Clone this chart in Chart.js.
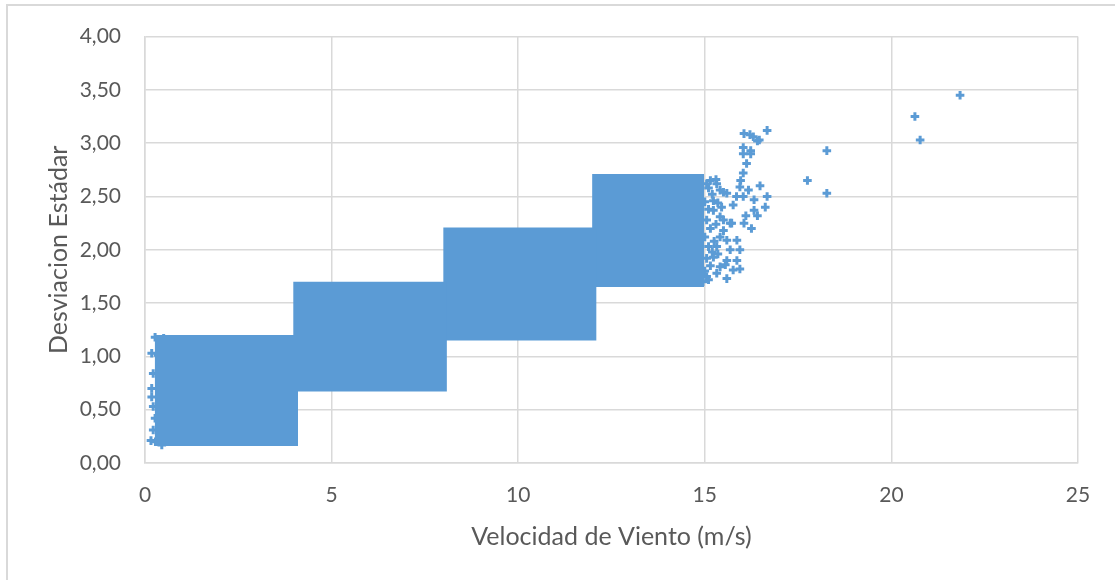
<!DOCTYPE html>
<html>
<head>
<meta charset="utf-8">
<script src="https://cdn.jsdelivr.net/npm/chart.js@4.4.1/dist/chart.umd.min.js"></script>
<style>
  html, body { margin: 0; padding: 0; background: #fff; }
  #wrap { position: relative; width: 1115px; height: 580px; overflow: hidden; }
  #frame { position: absolute; left: 6px; top: 4px; width: 1200px; height: 700px; border: 2px solid #d9d9d9; box-sizing: border-box; }
  canvas { position: absolute; left: 0; top: 0; }
</style>
</head>
<body>
<div id="wrap">
  <div id="frame"></div>
  <canvas id="chart" width="1115" height="580"></canvas>
</div>
<script>
const blockXMin = [0.26, 3.97, 7.99, 11.98];
const blockXMax = [4.10, 8.09, 12.10, 14.98];
const blockYMin = [0.16, 0.67, 1.15, 1.65];
const blockYMax = [1.20, 1.70, 2.21, 2.71];

// sparse points: left edge of first block
const edgeX = [0.16, 0.28, 0.27, 0.18, 0.35, 0.22, 0.18, 0.18, 0.22, 0.27, 0.22, 0.45, 0.50];
const edgeY = [0.21, 0.20, 1.18, 1.03, 1.01, 0.84, 0.70, 0.62, 0.53, 0.42, 0.31, 0.17, 1.17];

// sparse points: right side of the fourth block
const tailX = [15.15, 15.10, 15.20, 15.32, 15.59, 15.41, 15.23, 15.23, 15.41, 15.50, 15.68,
  15.59, 15.86, 15.68, 15.94, 15.32, 15.86, 15.59, 15.41, 15.76, 15.94, 15.59, 15.32,
  15.23, 15.05, 15.41,
  15.05, 15.00, 15.10, 15.05, 15.15, 15.00, 15.10, 15.20, 15.05, 15.15, 15.00, 14.95, 15.10,
  15.30, 15.35, 15.45, 15.30, 15.50, 15.25, 15.35, 15.55,
  16.67, 16.05, 16.21, 16.30, 16.41, 16.46, 16.03, 16.23, 16.23, 16.03, 16.12, 16.03,
  15.96, 15.94, 16.48, 16.17, 16.67, 16.32, 16.03, 15.76, 16.62, 16.32, 16.41, 16.10,
  16.05, 16.25, 15.72, 15.50, 15.85];
const tailY = [2.65, 2.58, 2.52, 2.62, 2.53, 2.56, 2.46, 2.37, 2.31, 2.18, 2.25,
  2.09, 2.09, 2.00, 2.00, 2.03, 1.90, 1.90, 1.84, 1.81, 1.82, 1.73, 1.78,
  1.93, 1.75, 2.12,
  2.62, 2.45, 2.38, 2.28, 2.20, 2.12, 2.03, 1.98, 1.92, 1.85, 1.80, 1.70, 1.72,
  2.66, 2.44, 2.40, 2.24, 2.28, 2.08, 1.96, 1.86,
  3.12, 3.09, 3.08, 3.06, 3.02, 3.03, 2.96, 2.93, 2.90, 2.90, 2.81, 2.72,
  2.65, 2.59, 2.60, 2.56, 2.50, 2.47, 2.50, 2.42, 2.40, 2.37, 2.32, 2.32,
  2.25, 2.20, 2.25, 2.54, 2.50];

// isolated high-wind points
const outX = [17.75, 18.27, 18.27, 20.63, 20.77, 21.84];
const outY = [2.65, 2.93, 2.53, 3.25, 3.03, 3.45];

const blue = '#5b9bd5';
const grey = '#d9d9d9';
const textColor = '#595959';
const fontFamily = 'Lato, "Open Sans", sans-serif';

function toPoints(xs, ys) {
  return xs.map((x, i) => ({ x: x, y: ys[i] }));
}

const datasets = [];
blockXMin.forEach((x0, i) => {
  datasets.push({
    type: 'line',
    data: [{ x: x0, y: blockYMax[i] }, { x: blockXMax[i], y: blockYMax[i] }],
    borderWidth: 0,
    borderColor: blue,
    backgroundColor: blue,
    pointRadius: 0,
    fill: { value: blockYMin[i] }
  });
});
[toPoints(edgeX, edgeY), toPoints(tailX, tailY), toPoints(outX, outY)].forEach(pts => {
  datasets.push({
    type: 'scatter',
    data: pts,
    pointStyle: 'cross',
    pointRadius: 4.3,
    borderWidth: 3,
    borderColor: blue,
    backgroundColor: blue
  });
});

new Chart(document.getElementById('chart'), {
  type: 'scatter',
  data: { datasets: datasets },
  options: {
    responsive: false,
    animation: false,
    events: [],
    layout: { padding: { top: 36, right: 37, left: 0, bottom: 0 } },
    plugins: { legend: { display: false }, tooltip: { enabled: false } },
    scales: {
      x: {
        type: 'linear',
        min: 0,
        max: 25,
        ticks: { stepSize: 5, color: textColor, font: { family: fontFamily, size: 21 }, padding: 20 },
        grid: { color: grey, lineWidth: 1.5, drawTicks: false },
        border: { color: grey, width: 1.5 },
        title: {
          display: true,
          text: 'Velocidad de Viento (m/s)',
          color: textColor,
          font: { family: fontFamily, size: 25 },
          padding: { top: 4, bottom: 28 }
        },
        afterFit: s => { s.height = 117; }
      },
      y: {
        type: 'linear',
        min: 0,
        max: 4,
        ticks: {
          stepSize: 0.5,
          color: textColor,
          font: { family: fontFamily, size: 21 },
          padding: 24,
          callback: v => v.toFixed(2).replace('.', ',')
        },
        grid: { color: grey, lineWidth: 1.5, drawTicks: false },
        border: { color: grey, width: 1.5 },
        title: {
          display: true,
          text: 'Desviacion Estádar',
          color: textColor,
          font: { family: fontFamily, size: 25 },
          padding: { top: 44 }
        },
        afterFit: s => { s.width = 145; }
      }
    }
  }
});
</script>
</body>
</html>
